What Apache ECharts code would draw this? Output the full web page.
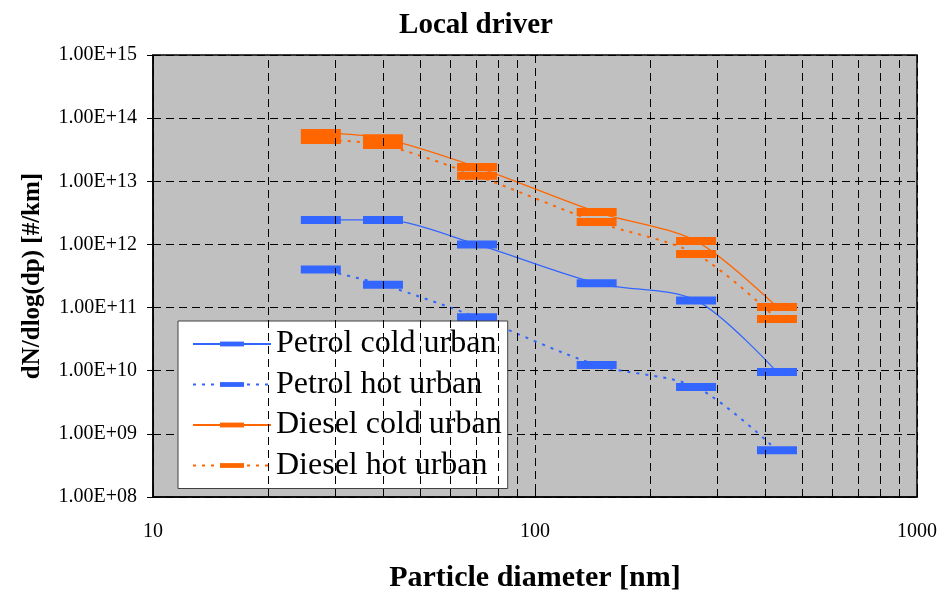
<!DOCTYPE html>
<html><head><meta charset="utf-8">
<script src="https://cdn.jsdelivr.net/npm/echarts@6/dist/echarts.min.js"></script>
<style>html,body{margin:0;padding:0;background:#fff}#c{width:952px;height:599px}</style>
</head><body><div id="c"></div>
<script>
const diameters = [27.5, 40, 70.5, 145, 264, 430];
const petrolCold = [2.44e12, 2.44e12, 1.0e12, 2.42e11, 1.30e11, 9.5e9];
const petrolHot = [4.0e11, 2.3e11, 7.0e10, 1.23e10, 5.5e9, 5.5e8];
const dieselCold = [5.8e13, 4.8e13, 1.68e13, 3.26e12, 1.13e12, 1.02e11];
const dieselHot = [4.5e13, 3.76e13, 1.22e13, 2.26e12, 7.05e11, 6.6e10];
const seriesNames = ['Petrol cold urban', 'Petrol hot urban', 'Diesel cold urban', 'Diesel hot urban'];
const yTickLabels = ['1.00E+08','1.00E+09','1.00E+10','1.00E+11','1.00E+12','1.00E+13','1.00E+14','1.00E+15'];
const xTickLabels = ['10', '100', '1000'];
const minorX = [20, 30, 40, 50, 60, 70, 80, 90, 200, 300, 400, 500, 600, 700, 800, 900];

const FONT = 'Liberation Serif';
const BLUE = '#3366FF';
const ORANGE = '#FF6600';
const barSymbol = 'path://M0,2L5,2L5,3L0,3Z M0,0L0,0 M0,5L0,5';

function pairs(vals) { return diameters.map((d, i) => [d, vals[i]]); }

function mkSeries(name, vals, color, dotted, z) {
  return {
    name: name, type: 'line', data: pairs(vals), z: z,
    smooth: 0.3,
    symbol: barSymbol, symbolSize: 40,
    itemStyle: { color: color, borderWidth: 0 },
    lineStyle: { color: color, width: dotted ? 2 : 1.3, type: dotted ? [3, 6] : 'solid' },
    emphasis: { disabled: true },
    animation: false
  };
}

const chart = echarts.init(document.getElementById('c'));
chart.setOption({
  animation: false,
  backgroundColor: '#fff',
  title: {
    text: 'Local driver', left: 'center', top: 6,
    textStyle: { fontFamily: FONT, fontSize: 29, fontWeight: 'bold', color: '#000' }
  },
  grid: {
    left: 153, right: 35, top: 55, bottom: 102,
    show: true, backgroundColor: '#c0c0c0', borderColor: '#000', borderWidth: 1.5
  },
  legend: {
    orient: 'vertical', left: 178, top: 321,
    backgroundColor: '#fff', borderColor: '#404040', borderWidth: 1,
    padding: [7, 6, 7, 14],
    itemWidth: 78, itemHeight: 30, itemGap: 8.5,
    data: seriesNames,
    textStyle: { fontFamily: FONT, fontSize: 32, color: '#000' }
  },
  xAxis: {
    type: 'log', logBase: 10, min: 10, max: 1000, interval: 1,
    name: 'Particle diameter [nm]', nameLocation: 'middle', nameGap: 66,
    nameTextStyle: { fontFamily: FONT, fontSize: 30, fontWeight: 'bold', color: '#000' },
    axisLine: { show: true, lineStyle: { color: '#000', width: 1.5 } },
    axisTick: { show: true, inside: true, length: 7, lineStyle: { color: '#000' } },
    axisLabel: {
      fontFamily: FONT, fontSize: 20, color: '#000', margin: 25,
      formatter: v => xTickLabels[Math.round(Math.log10(v)) - 1]
    },
    splitLine: { show: true, lineStyle: { color: '#000', type: [8, 5], width: 1 } }
  },
  yAxis: {
    type: 'log', logBase: 10, min: 1e8, max: 1e15, interval: 1,
    name: 'dN/dlog(dp) [#/km]', nameLocation: 'middle', nameGap: 108, nameRotate: 90,
    nameTextStyle: { fontFamily: FONT, fontSize: 25, fontWeight: 'bold', color: '#000' },
    axisLine: { show: true, lineStyle: { color: '#000', width: 1.5 } },
    axisTick: { show: true, inside: false, length: 6, lineStyle: { color: '#000' } },
    axisLabel: {
      fontFamily: FONT, fontSize: 20, color: '#000', margin: 16,
      formatter: v => yTickLabels[Math.round(Math.log10(v)) - 8]
    },
    splitLine: { show: true, lineStyle: { color: '#000', type: [8, 5], width: 1 } }
  },
  series: [
    {
      type: 'line', data: [], z: 1, silent: true,
      markLine: {
        silent: true, symbol: 'none', animation: false,
        label: { show: false },
        lineStyle: { color: '#000', type: [8, 5], width: 1 },
        emphasis: { disabled: true },
        data: minorX.map(v => ({ xAxis: v }))
      }
    },
    mkSeries(seriesNames[0], petrolCold, BLUE, false, 3),
    mkSeries(seriesNames[1], petrolHot, BLUE, true, 3),
    mkSeries(seriesNames[2], dieselCold, ORANGE, false, 4),
    mkSeries(seriesNames[3], dieselHot, ORANGE, true, 4)
  ]
});
</script>
</body></html>
